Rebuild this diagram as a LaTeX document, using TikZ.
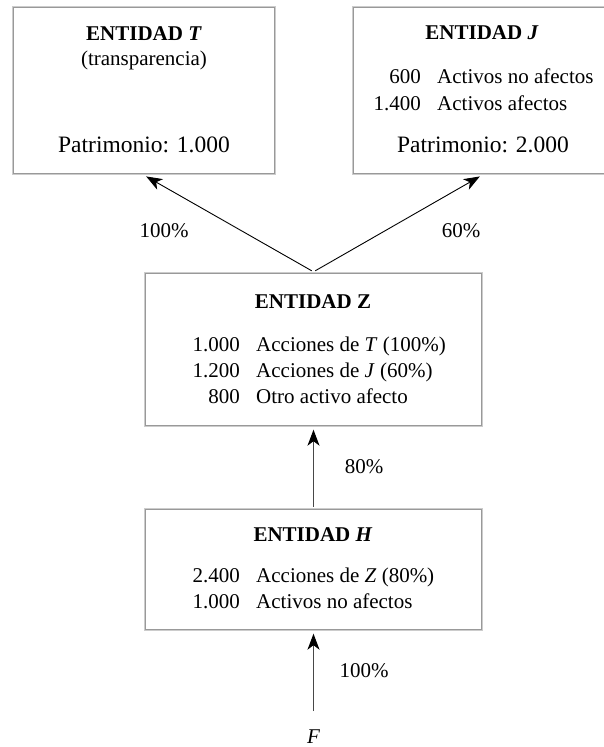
\documentclass[tikz,border=0pt]{standalone}
\usepackage{fontspec}
\setmainfont{Liberation Serif}
\usetikzlibrary{arrows.meta}
\begin{document}
\begin{tikzpicture}[x=1pt,y=-1pt,
  txt/.style={inner sep=0pt, font=\fontsize{21}{25}\selectfont},
  num/.style={txt, anchor=base east},
  lbl/.style={txt, anchor=base west},
  ctr/.style={txt, anchor=base},
  ttl/.style={inner sep=0pt, anchor=base, font=\fontsize{21}{25}\selectfont\bfseries},
  pat/.style={inner sep=0pt, anchor=base, font=\fontsize{23.5}{28}\selectfont},
  entbox/.style={rectangle, draw=gray!40, line width=2.4pt, inner sep=0pt},
  inframe/.style={draw=gray!80, line width=1.1pt},
  tip/.style={-{Stealth[length=16pt,width=12pt,inset=4.5pt,color=black]}},
  link/.style={tip, line width=0.9pt, draw=black},
  vlink/.style={tip, line width=1pt, draw=black!72},
]
\useasboundingbox (0,0) rectangle (604,747);
\fill[white] (0,0) rectangle (604,747);

% entity boxes (outer light frame, inner darker frame)
\node[entbox, minimum width=262pt, minimum height=167pt] (T) at (144,90.5) {};
\node[entbox, minimum width=258pt, minimum height=167pt] (J) at (482,90.5) {};
\node[entbox, minimum width=337pt, minimum height=153pt] (Z) at (313.5,349.5) {};
\node[entbox, minimum width=337pt, minimum height=121pt] (H) at (313.5,569.5) {};
\foreach \b in {T,J,Z,H}
  \draw[inframe] ([shift={(1.8pt,-1.8pt)}]\b.north west) rectangle ([shift={(-1.8pt,1.8pt)}]\b.south east);

% entity T
\node[ttl] (tT) at (144,40) {ENTIDAD \textit{T}};
\node[ctr] (sT) at (144,65) {(transparencia)};
\node[pat] (pT) at (144,152) {Patrimonio: 1.000};

% entity J
\node[ttl] (tJ) at (482,39) {ENTIDAD \textit{J}};
\node[num] (nJa) at (421,83) {600};
\node[lbl] (lJa) at (437,83) {Activos no afectos};
\node[num] (nJb) at (421,110) {1.400};
\node[lbl] (lJb) at (437,110) {Activos afectos};
\node[pat] (pJ) at (483,152) {Patrimonio: 2.000};

% entity Z
\node[ttl] (tZ) at (313,308) {ENTIDAD Z};
\node[num] (nZa) at (240,351) {1.000};
\node[lbl] (lZa) at (256,351) {Acciones de \textit{T} (100\%)};
\node[num] (nZb) at (240,377) {1.200};
\node[lbl] (lZb) at (256,377) {Acciones de \textit{J} (60\%)};
\node[num] (nZc) at (240,403) {800};
\node[lbl] (lZc) at (256,403) {Otro activo afecto};

% entity H
\node[ttl] (tH) at (313,541) {ENTIDAD \textit{H}};
\node[num] (nHa) at (240,582) {2.400};
\node[lbl] (lHa) at (256,582) {Acciones de \textit{Z} (80\%)};
\node[num] (nHb) at (240,608) {1.000};
\node[lbl] (lHb) at (256,608) {Activos no afectos};

% owner F
\node[inner sep=0pt, anchor=base, font=\fontsize{21}{25}\selectfont\itshape] (F) at (313.5,743) {F};

% ownership links
\draw[link, shorten <=2pt, shorten >=2.5pt] (Z.north) -- (T.south);
\draw[link, shorten <=2pt, shorten >=2.5pt] (Z.north) -- (J.south);
\draw[vlink, shorten <=1pt, shorten >=2.5pt] (H.north) -- (Z.south);
\draw[vlink, shorten <=18pt, shorten >=2.5pt] (F.north) -- (H.south);

% percentages
\node[ctr] (pc1) at (164,237) {100\%};
\node[ctr] (pc2) at (461,237) {60\%};
\node[ctr] (pc3) at (364,473) {80\%};
\node[ctr] (pc4) at (364,677) {100\%};
\end{tikzpicture}
\end{document}
